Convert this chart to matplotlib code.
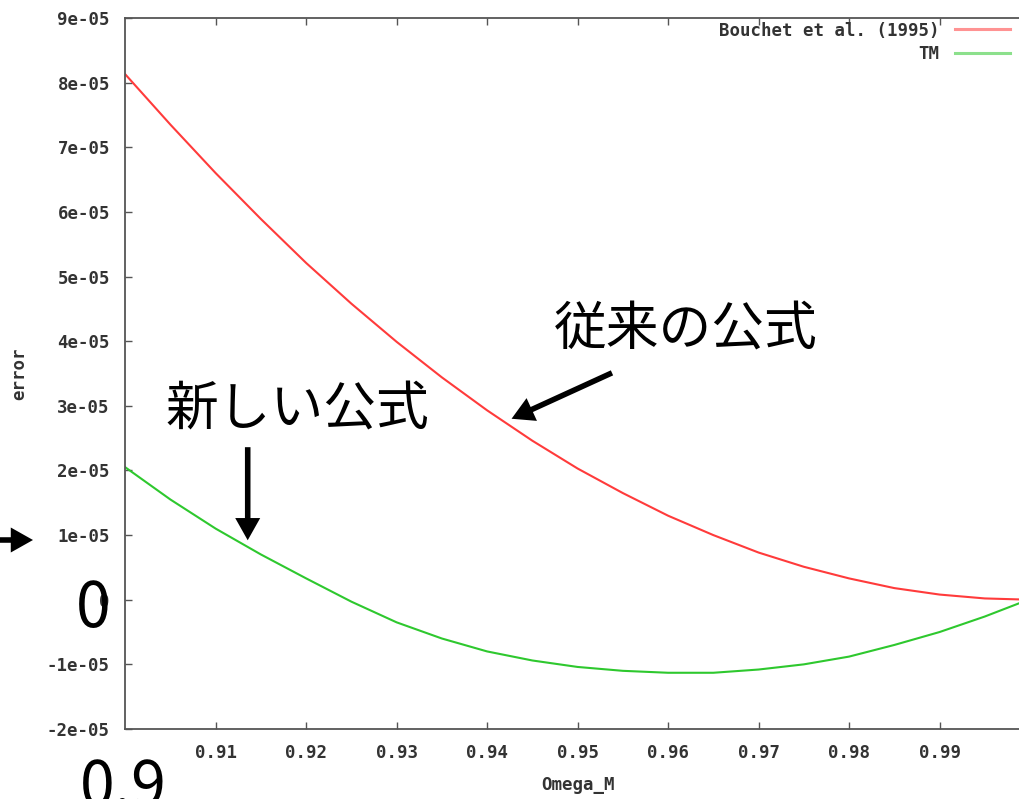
import numpy as np
import matplotlib
matplotlib.use("Agg")
import matplotlib.pyplot as plt

# values, error in units of 1e-05
omega_m = [0.900, 0.905, 0.910, 0.915, 0.920, 0.925, 0.930, 0.935, 0.940, 0.945, 0.950,
           0.955, 0.960, 0.965, 0.970, 0.975, 0.980, 0.985, 0.990, 0.995, 1.000]
bouchet = [8.13, 7.35, 6.60, 5.89, 5.21, 4.58, 3.99, 3.44, 2.93, 2.46, 2.03,
           1.65, 1.30, 1.00, 0.73, 0.51, 0.33, 0.18, 0.08, 0.02, 0.00]
tm = [2.05, 1.55, 1.10, 0.70, 0.33, -0.03, -0.35, -0.60, -0.80, -0.94, -1.04,
      -1.10, -1.13, -1.13, -1.08, -1.00, -0.88, -0.70, -0.50, -0.26, 0.01]

x_ticks = [0.91, 0.92, 0.93, 0.94, 0.95, 0.96, 0.97, 0.98, 0.99]
x_tick_labels = ["0.91", "0.92", "0.93", "0.94", "0.95", "0.96", "0.97", "0.98", "0.99"]
y_ticks = [-2e-05, -1e-05, 0, 1e-05, 2e-05, 3e-05, 4e-05, 5e-05, 6e-05, 7e-05, 8e-05, 9e-05]

W, H = 1020, 799

def fig_xy(px, py):
    # pixel position (from top left) -> figure fraction
    return px / W, 1 - py / H

plt.rcParams['font.family'] = ['DejaVu Sans Mono']
fig = plt.figure(figsize=(W / 100, H / 100), dpi=100)
ax = fig.add_axes([125.2 / W, 70 / H, 904.8 / W, 711 / H])

x = np.array(omega_m)
ax.plot(x, np.array(bouchet) * 1e-05, color="#ff3b3b", lw=1.5, label="Bouchet et al. (1995)")
ax.plot(x, np.array(tm) * 1e-05, color="#2ec82e", lw=1.5, label="TM")

ax.set_xlim(0.9, 1.0)
ax.set_ylim(-2e-05, 9e-05)
ax.set_xticks(x_ticks)
ax.set_xticklabels(x_tick_labels)
ax.set_yticks(y_ticks)
ax.set_yticklabels([f"{t:g}" for t in y_ticks])

tick_font = dict(family="DejaVu Sans Mono", weight="bold", size=12.5)
for lab in ax.get_xticklabels() + ax.get_yticklabels():
    lab.set_fontproperties(tick_font)
    lab.set_color("#333333")
ax.tick_params(direction="in", top=True, right=True, length=5, width=1,
               color="#555555", pad=11)
for s in ax.spines.values():
    s.set_color("#555555")
    s.set_linewidth(1.3)

ax.set_xlabel("Omega_M", fontproperties=tick_font, color="#333333")
ax.set_ylabel("error", fontproperties=tick_font, color="#333333")
ax.xaxis.set_label_coords(0.5, -0.066)
ax.yaxis.set_label_coords(-0.107, 0.5)

leg = ax.legend(loc="upper right", bbox_to_anchor=(0.978, 0.995), frameon=False,
                markerfirst=False, borderaxespad=0, borderpad=0, handlelength=3.2,
                handletextpad=0.86, labelspacing=0.3, prop=tick_font)
for t in leg.get_texts():
    t.set_color("#333333")
for h in leg.legend_handles:
    h.set_alpha(0.55)
    h.set_linewidth(2.2)

# annotations
jp = dict(family=["Noto Sans CJK JP", "DejaVu Sans"], size=38, color="black")
arrow = dict(facecolor="black", edgecolor="none", width=4, headwidth=18, headlength=16, shrink=0)

ax.text(0.962, 4.17e-05, "従来の公式", ha="center", va="center", **jp)
ax.annotate("", xy=(0.9427, 2.80e-05), xytext=(0.9538, 3.51e-05), arrowprops=arrow)

ax.text(0.919, 2.94e-05, "新しい公式", ha="center", va="center", **jp)
ax.annotate("", xy=(0.91354, 0.92e-05), xytext=(0.91354, 2.36e-05), arrowprops=arrow)

ax.annotate("", xy=fig_xy(33, 540), xycoords="figure fraction",
            xytext=fig_xy(-10, 540), textcoords="figure fraction",
            arrowprops=arrow, annotation_clip=False)

big = dict(family=["Noto Sans CJK JP", "DejaVu Sans"], size=45, color="black")
fig.text(*fig_xy(93, 627), "0", ha="center", va="baseline", **big)
fig.text(*fig_xy(80, 806), "0.9", ha="left", va="baseline", **big)

fig.savefig("out.png", dpi=100)
